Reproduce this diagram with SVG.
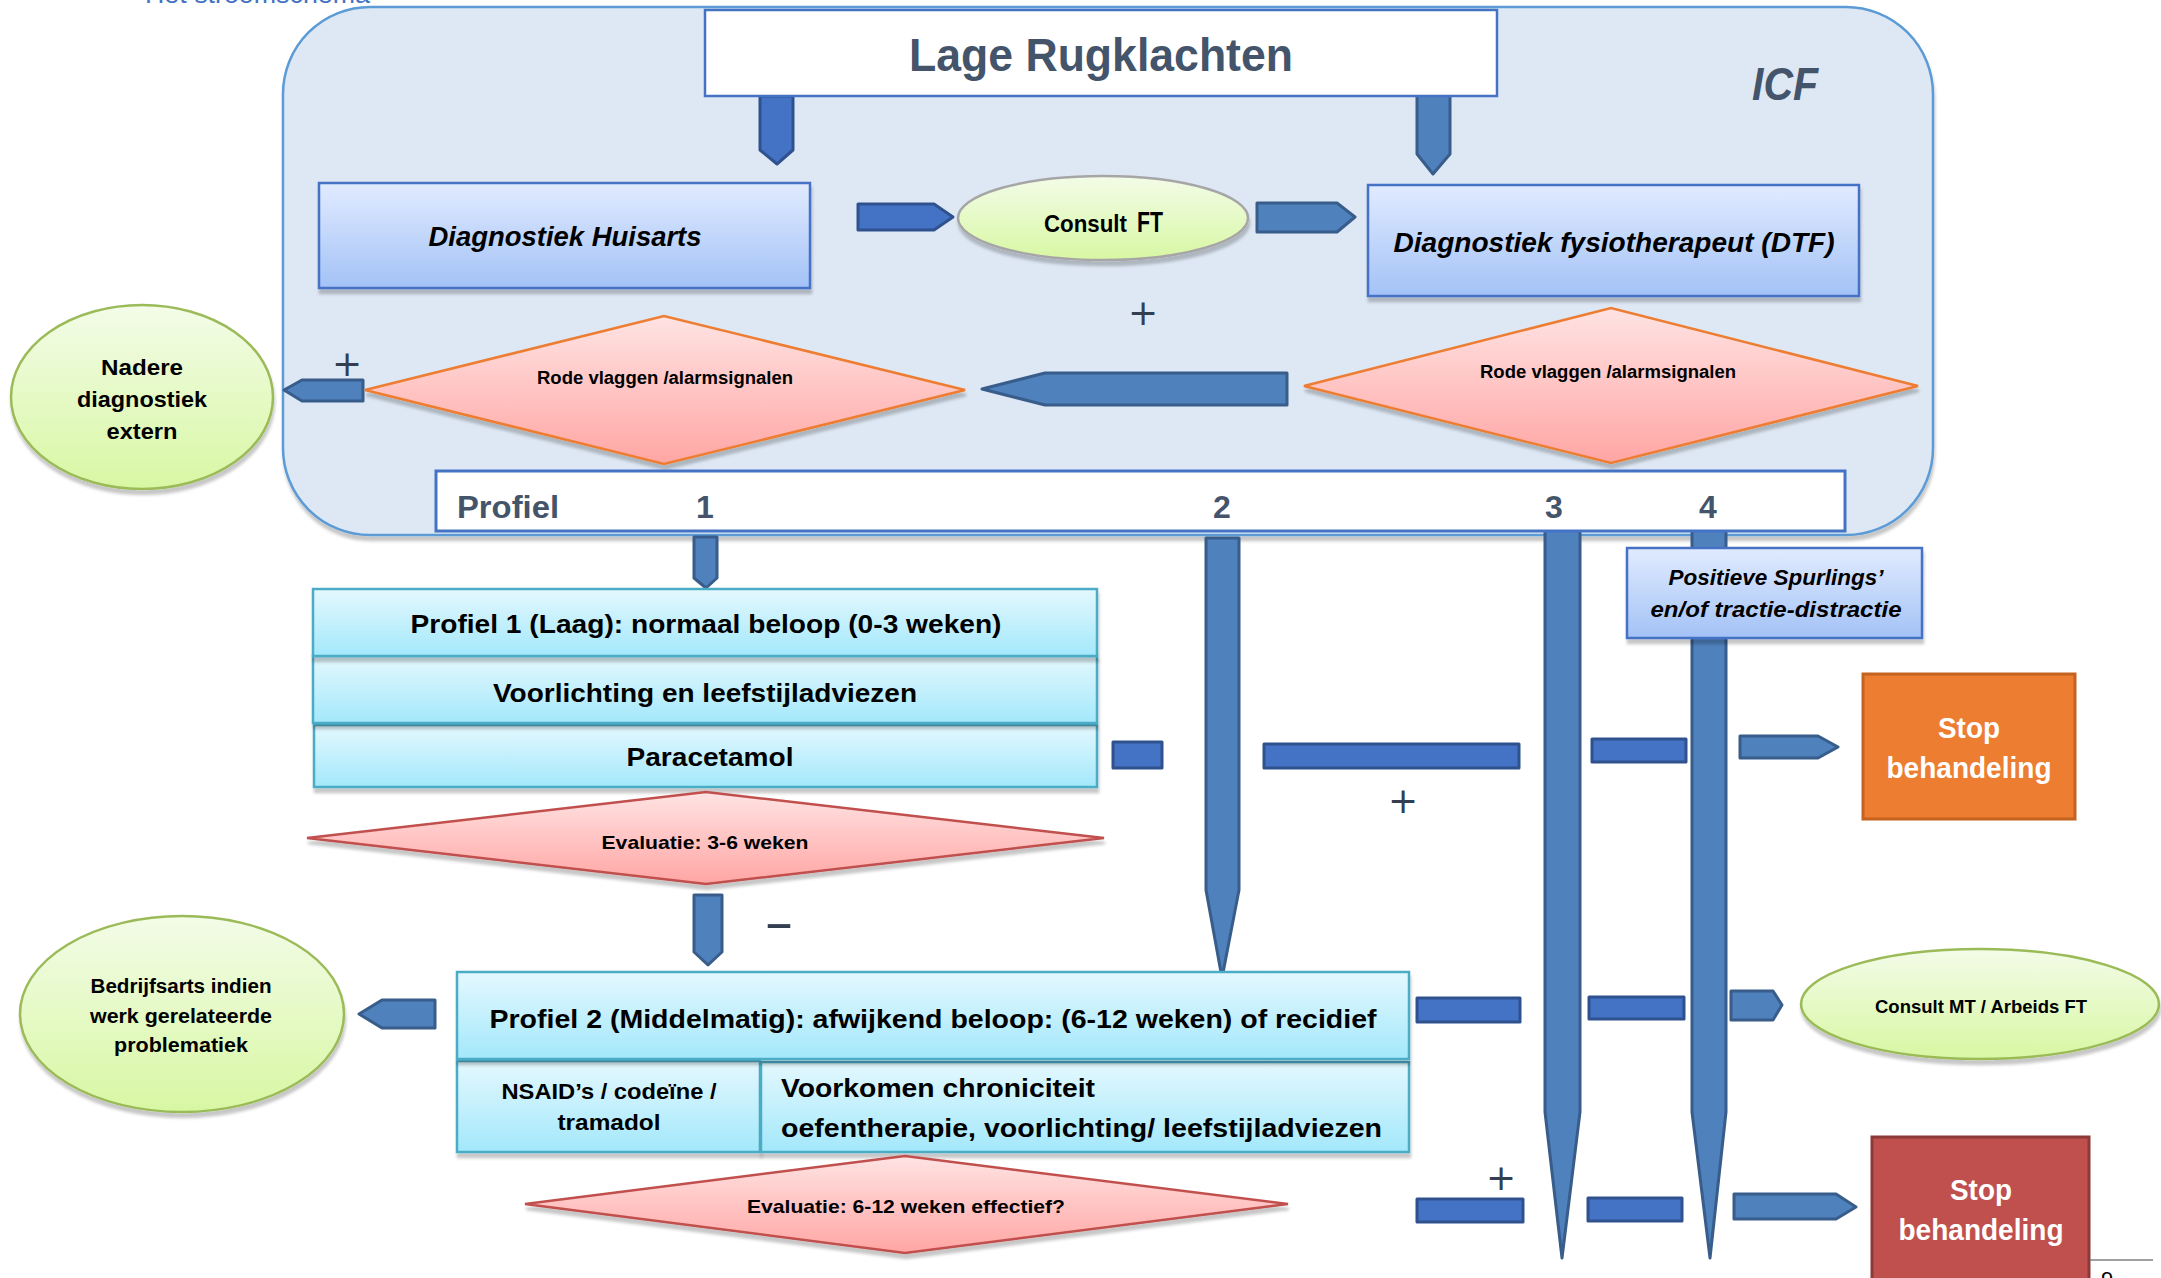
<svg xmlns="http://www.w3.org/2000/svg" width="2161" height="1278" viewBox="0 0 2161 1278">
  <defs>
    <linearGradient id="gBlue" x1="0" y1="0" x2="0" y2="1">
      <stop offset="0" stop-color="#e1ebff"/>
      <stop offset="1" stop-color="#a3c2f6"/>
    </linearGradient>
    <linearGradient id="gCyan" x1="0" y1="0" x2="0" y2="1">
      <stop offset="0" stop-color="#e4f8fe"/>
      <stop offset="1" stop-color="#a3e8fb"/>
    </linearGradient>
    <linearGradient id="gPink" x1="0" y1="0" x2="0" y2="1">
      <stop offset="0" stop-color="#ffe3e3"/>
      <stop offset="1" stop-color="#ffa6a4"/>
    </linearGradient>
    <linearGradient id="gGreen" x1="0" y1="0" x2="0" y2="1">
      <stop offset="0" stop-color="#f3fce8"/>
      <stop offset="1" stop-color="#d8f7a3"/>
    </linearGradient>
    <filter id="sh" x="-5%" y="-10%" width="112%" height="130%">
      <feDropShadow dx="1" dy="5" stdDeviation="1.8" flood-color="#000" flood-opacity="0.22"/>
    </filter>
    <style>
      text { font-family: "Liberation Sans", Arial, sans-serif; font-weight: bold; fill: #000; }
      .mid { text-anchor: middle; }
      .it { font-style: italic; }
      .slate { fill: #44546a; }
      .white { fill: #ffffff; }
      .sign { font-family: "DejaVu Sans", sans-serif; font-weight: normal; fill: #333f50; font-size: 36px; text-anchor: middle; }
      .blueBox { fill: url(#gBlue); stroke: #4472c4; stroke-width: 2.5; filter: url(#sh); }
      .cyanBox { fill: url(#gCyan); stroke: #4bacc6; stroke-width: 2.5; filter: url(#sh); }
      .flag { fill: url(#gPink); stroke: #ed7d31; stroke-width: 2.5; filter: url(#sh); }
      .eval { fill: url(#gPink); stroke: #c0504d; stroke-width: 2.5; filter: url(#sh); }
      .oval { fill: url(#gGreen); stroke: #9bbb59; stroke-width: 2.5; filter: url(#sh); }
      .arrA { fill: #4472c4; stroke: #2f528f; stroke-width: 3; stroke-linejoin: round; }
      .arrB { fill: #4f81bd; stroke: #385d8a; stroke-width: 3; stroke-linejoin: round; }
    </style>
  </defs>

  <rect width="2161" height="1278" fill="#ffffff"/>

  <!-- chapter heading, cut off at the top edge -->
  <text x="145" y="3" font-size="26" style="fill:#4472c4;font-weight:normal" textLength="225" lengthAdjust="spacingAndGlyphs">Het stroomschema</text>

  <!-- ICF frame -->
  <g id="icf-frame">
    <rect x="283" y="7" width="1650" height="528" rx="87" ry="87" fill="#dee8f4" stroke="#5b9bd5" stroke-width="2.5" filter="url(#sh)"/>
    <text class="mid it slate" x="1785" y="100" font-size="47" textLength="66" lengthAdjust="spacingAndGlyphs">ICF</text>
  </g>

  <!-- flow arrows and decision signs -->
  <g id="connectors">
    <polygon class="arrA" points="760,96 793,96 793,150 777,164 760,150"/>
    <polygon class="arrB" points="1417,95 1450,95 1450,154 1433,174 1417,154"/>
    <polygon class="arrA" points="858,204 934,204 953,217 934,230 858,230"/>
    <polygon class="arrB" points="1257,203 1337,203 1355,217 1337,232 1257,232"/>
    <polygon class="arrB" points="1287,373 1287,405 1045,405 982,389 1045,373"/>
    <polygon class="arrB" points="363,380 363,401 302,401 284,390 302,380"/>

    <polygon class="arrB" points="694,537 717,537 717,578 706,588 694,578"/>
    <polygon class="arrB" points="694,895 722,895 722,952 708,965 694,952"/>
    <polygon class="arrB" points="1206,538 1239,538 1239,890 1222,978 1206,890"/>
    <polygon class="arrB" points="1545,529 1580,529 1580,1112 1562,1258 1545,1112"/>
    <polygon class="arrB" points="1692,529 1726,529 1726,1112 1710,1258 1692,1112"/>
    <polygon class="arrB" points="435,1000 435,1028 382,1028 359,1014 382,1000"/>

    <rect class="arrA" x="1113" y="742" width="49" height="26"/>
    <rect class="arrA" x="1264" y="744" width="255" height="24"/>
    <rect class="arrA" x="1592" y="739" width="94" height="23"/>
    <polygon class="arrB" points="1740,736 1818,736 1838,747 1818,758 1740,758"/>

    <rect class="arrA" x="1417" y="998" width="103" height="24"/>
    <rect class="arrA" x="1589" y="997" width="95" height="22"/>
    <polygon class="arrB" points="1731,991 1773,991 1782,1005 1773,1020 1731,1020"/>

    <rect class="arrA" x="1417" y="1199" width="106" height="23"/>
    <rect class="arrA" x="1588" y="1198" width="94" height="23"/>
    <polygon class="arrB" points="1734,1194 1836,1194 1856,1207 1836,1219 1734,1219"/>

    <text class="sign" x="347" y="376">+</text>
    <text class="sign" x="1143" y="325">+</text>
    <text class="sign" x="1403" y="813">+</text>
    <text class="sign" x="1501" y="1190">+</text>
    <text class="sign" x="779" y="941" style="font-size:56px">–</text>
  </g>

  <g id="title">
    <rect x="705" y="10" width="792" height="86" fill="#ffffff" stroke="#4472c4" stroke-width="2.5"/>
    <text class="mid slate" x="1101" y="71" font-size="47" textLength="384" lengthAdjust="spacingAndGlyphs">Lage Rugklachten</text>
  </g>

  <g id="diagnostiek-huisarts">
    <rect class="blueBox" x="319" y="183" width="491" height="105"/>
    <text class="mid it" x="565" y="246" font-size="27" textLength="273" lengthAdjust="spacingAndGlyphs">Diagnostiek Huisarts</text>
  </g>

  <g id="consult-ft">
    <ellipse cx="1103" cy="218" rx="145" ry="42" fill="url(#gGreen)" stroke="#a6a6a6" stroke-width="2.5" filter="url(#sh)"/>
    <text y="232"><tspan x="1044" font-size="23" textLength="83" lengthAdjust="spacingAndGlyphs">Consult</tspan> <tspan x="1137" font-size="29" textLength="26" lengthAdjust="spacingAndGlyphs">FT</tspan></text>
  </g>

  <g id="diagnostiek-dtf">
    <rect class="blueBox" x="1368" y="185" width="491" height="111"/>
    <text class="mid it" x="1614" y="252" font-size="27" textLength="441" lengthAdjust="spacingAndGlyphs">Diagnostiek fysiotherapeut (DTF)</text>
  </g>

  <g id="rode-vlaggen-huisarts">
    <polygon class="flag" points="365,390 664,316 965,390 664,464"/>
    <text class="mid" x="665" y="384" font-size="18" textLength="256" lengthAdjust="spacingAndGlyphs">Rode vlaggen /alarmsignalen</text>
  </g>

  <g id="rode-vlaggen-dtf">
    <polygon class="flag" points="1304,386 1611,308 1918,386 1611,463"/>
    <text class="mid" x="1608" y="378" font-size="18" textLength="256" lengthAdjust="spacingAndGlyphs">Rode vlaggen /alarmsignalen</text>
  </g>

  <g id="nadere-diagnostiek">
    <ellipse class="oval" cx="142" cy="397" rx="131" ry="92"/>
    <text class="mid" x="142" y="375" font-size="22" textLength="82" lengthAdjust="spacingAndGlyphs">Nadere</text>
    <text class="mid" x="142" y="407" font-size="22" textLength="130" lengthAdjust="spacingAndGlyphs">diagnostiek</text>
    <text class="mid" x="142" y="439" font-size="22" textLength="71" lengthAdjust="spacingAndGlyphs">extern</text>
  </g>

  <g id="profiel-balk">
    <rect x="436" y="471" width="1409" height="60" fill="#ffffff" stroke="#4472c4" stroke-width="3"/>
    <text class="slate" x="457" y="518" font-size="32" textLength="102" lengthAdjust="spacingAndGlyphs">Profiel</text>
    <text class="mid slate" x="705" y="518" font-size="32">1</text>
    <text class="mid slate" x="1222" y="518" font-size="32">2</text>
    <text class="mid slate" x="1554" y="518" font-size="32">3</text>
    <text class="mid slate" x="1708" y="518" font-size="32">4</text>
  </g>

  <g id="profiel-1">
    <rect class="cyanBox" x="314" y="725" width="783" height="62"/>
    <rect class="cyanBox" x="313" y="656" width="784" height="67"/>
    <rect class="cyanBox" x="313" y="589" width="784" height="67"/>
    <text class="mid" x="706" y="633" font-size="25" textLength="591" lengthAdjust="spacingAndGlyphs">Profiel 1 (Laag): normaal beloop (0-3 weken)</text>
    <text class="mid" x="705" y="702" font-size="25" textLength="424" lengthAdjust="spacingAndGlyphs">Voorlichting en leefstijladviezen</text>
    <text class="mid" x="710" y="766" font-size="25" textLength="167" lengthAdjust="spacingAndGlyphs">Paracetamol</text>
  </g>

  <g id="evaluatie-3-6">
    <polygon class="eval" points="307,838 706,792 1104,838 706,884"/>
    <text class="mid" x="705" y="849" font-size="19" textLength="207" lengthAdjust="spacingAndGlyphs">Evaluatie: 3-6 weken</text>
  </g>

  <g id="positieve-spurlings">
    <rect class="blueBox" x="1627" y="548" width="295" height="90"/>
    <text class="mid it" x="1776" y="585" font-size="22" textLength="215" lengthAdjust="spacingAndGlyphs">Positieve Spurlings’</text>
    <text class="mid it" x="1776" y="617" font-size="22" textLength="251" lengthAdjust="spacingAndGlyphs">en/of tractie-distractie</text>
  </g>

  <g id="stop-behandeling-1">
    <rect x="1863" y="674" width="212" height="145" fill="#ed7d31" stroke="#c4621f" stroke-width="3"/>
    <text class="mid white" x="1969" y="738" font-size="29" textLength="62" lengthAdjust="spacingAndGlyphs">Stop</text>
    <text class="mid white" x="1969" y="778" font-size="29" textLength="165" lengthAdjust="spacingAndGlyphs">behandeling</text>
  </g>

  <g id="profiel-2">
    <rect class="cyanBox" x="457" y="1061" width="303" height="91"/>
    <rect class="cyanBox" x="761" y="1062" width="648" height="90"/>
    <rect class="cyanBox" x="457" y="972" width="952" height="87"/>
    <text class="mid" x="933" y="1028" font-size="26" textLength="887" lengthAdjust="spacingAndGlyphs">Profiel 2 (Middelmatig): afwijkend beloop: (6-12 weken) of recidief</text>
    <text class="mid" x="609" y="1099" font-size="22" textLength="215" lengthAdjust="spacingAndGlyphs">NSAID’s / codeïne /</text>
    <text class="mid" x="609" y="1130" font-size="22" textLength="103" lengthAdjust="spacingAndGlyphs">tramadol</text>
    <text x="781" y="1097" font-size="26" textLength="314" lengthAdjust="spacingAndGlyphs">Voorkomen chroniciteit</text>
    <text x="781" y="1137" font-size="26" textLength="601" lengthAdjust="spacingAndGlyphs">oefentherapie, voorlichting/ leefstijladviezen</text>
  </g>

  <g id="bedrijfsarts">
    <ellipse class="oval" cx="182" cy="1014" rx="162" ry="98"/>
    <text class="mid" x="181" y="993" font-size="20" textLength="181" lengthAdjust="spacingAndGlyphs">Bedrijfsarts indien</text>
    <text class="mid" x="181" y="1023" font-size="20" textLength="182" lengthAdjust="spacingAndGlyphs">werk gerelateerde</text>
    <text class="mid" x="181" y="1052" font-size="20" textLength="134" lengthAdjust="spacingAndGlyphs">problematiek</text>
  </g>

  <g id="consult-mt">
    <ellipse class="oval" cx="1980" cy="1004" rx="179" ry="55"/>
    <text class="mid" x="1981" y="1013" font-size="18" textLength="212" lengthAdjust="spacingAndGlyphs">Consult MT / Arbeids FT</text>
  </g>

  <g id="evaluatie-6-12">
    <polygon class="eval" points="525,1204 905,1156 1288,1204 905,1253"/>
    <text class="mid" x="906" y="1213" font-size="19" textLength="318" lengthAdjust="spacingAndGlyphs">Evaluatie: 6-12 weken effectief?</text>
  </g>

  <g id="stop-behandeling-2">
    <rect x="1872" y="1137" width="217" height="160" fill="#c0504d" stroke="#8c3a38" stroke-width="3"/>
    <text class="mid white" x="1981" y="1200" font-size="29" textLength="62" lengthAdjust="spacingAndGlyphs">Stop</text>
    <text class="mid white" x="1981" y="1240" font-size="29" textLength="165" lengthAdjust="spacingAndGlyphs">behandeling</text>
  </g>

  <!-- page footer rule and number -->
  <line x1="2090" y1="1260" x2="2153" y2="1260" stroke="#808080" stroke-width="1.5"/>
  <text class="mid" x="2107" y="1287" font-size="22" style="font-weight:normal">9</text>
</svg>
